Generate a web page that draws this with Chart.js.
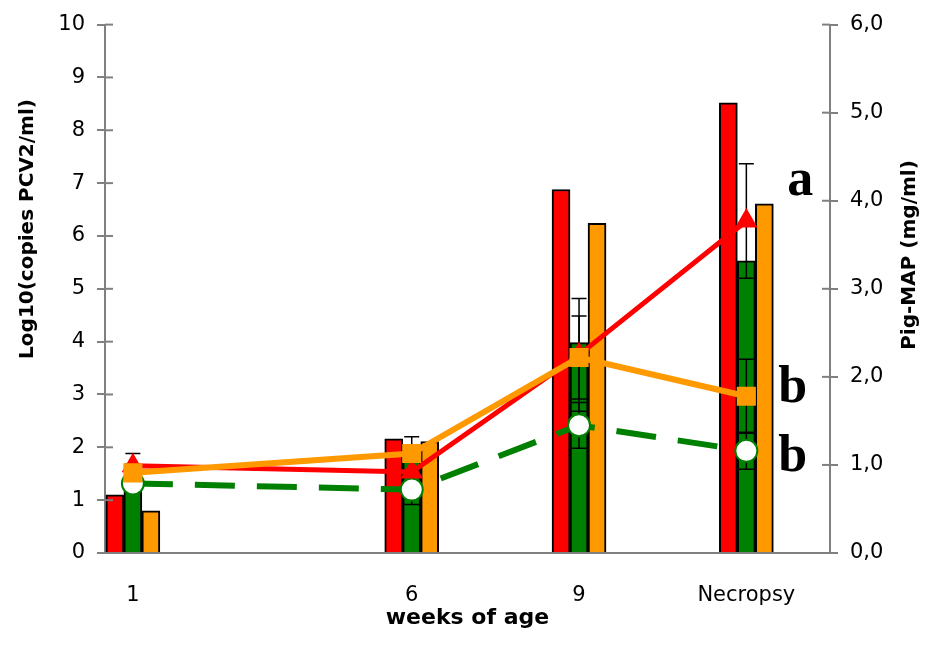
<!DOCTYPE html>
<html>
<head>
<meta charset="utf-8">
<script src="https://cdn.jsdelivr.net/npm/chart.js@4"></script>
<style>
  body { margin: 0; background: #fff; }
  #wrap { width: 934px; height: 646px; }
</style>
</head>
<body>
<div id="wrap"><canvas id="chart" width="934" height="646"></canvas></div>
<script>
// weeks on a linear x axis (necropsy placed at week 12)
const weeks = [1, 6, 9, 12];
const weekLabels = ['1', '6', '9', 'Necropsy'];

// Log10(copies PCV2/ml) - bars, left axis
const pcvRed    = [1.10, 2.16, 6.88, 8.52];
const pcvGreen  = [1.30, 1.75, 3.98, 5.53];
const pcvOrange = [0.80, 2.11, 6.24, 6.61];

// Pig-MAP (mg/ml) - lines, right axis
const mapRed    = [0.99, 0.92, 2.25, 3.77];
const mapOrange = [0.91, 1.13, 2.22, 1.78];
const mapGreen  = [0.79, 0.72, 1.45, 1.16];

// error (+/-) of the Pig-MAP means
const errRed    = [0.14, 0.15, 0.64, 0.65];
const errOrange = [0.10, 0.19, 0.47, 0.42];
const errGreen  = [0.10, 0.17, 0.26, 0.21];

// significance letters at necropsy
const sigLetters = ['a', 'b', 'b'];

const RED = '#ff0000', GREEN = '#008000', ORANGE = '#ff9900', AXIS = '#808080';
const tickFont = { family: 'DejaVu Sans', size: 21 };

const pts = arr => weeks.map((w, i) => ({ x: w, y: arr[i] }));

function barSet(arr, color) {
  return {
    type: 'bar', data: pts(arr), yAxisID: 'y', order: 10,
    backgroundColor: color, borderColor: '#000', borderWidth: 2, barThickness: 18
  };
}

// error bars drawn before the first line (green) so markers sit on top
const errorBars = {
  id: 'errorBars',
  beforeDatasetDraw(chart, args) {
    if (args.index !== 5) return;
    const { ctx, scales } = chart;
    ctx.save();
    ctx.strokeStyle = '#000';
    ctx.lineWidth = 1.5;
    [[mapRed, errRed], [mapOrange, errOrange], [mapGreen, errGreen]].forEach(([vals, errs]) => {
      vals.forEach((v, i) => {
        const x = scales.x.getPixelForValue(weeks[i]);
        const top = scales.y1.getPixelForValue(v + errs[i]);
        const bot = scales.y1.getPixelForValue(v - errs[i]);
        ctx.beginPath();
        ctx.moveTo(x, top); ctx.lineTo(x, bot);
        ctx.moveTo(x - 7.5, top); ctx.lineTo(x + 7.5, top);
        ctx.moveTo(x - 7.5, bot); ctx.lineTo(x + 7.5, bot);
        ctx.stroke();
      });
    });
    ctx.restore();
  }
};

// inner half of the crossing tick marks, titles and letters
const decorations = {
  id: 'decorations',
  afterDraw(chart) {
    const { ctx, scales, chartArea } = chart;
    ctx.save();
    ctx.strokeStyle = AXIS;
    ctx.lineWidth = 2;
    scales.y.ticks.forEach(t => {
      const y = scales.y.getPixelForValue(t.value);
      ctx.beginPath(); ctx.moveTo(chartArea.left, y); ctx.lineTo(chartArea.left + 8, y); ctx.stroke();
    });
    scales.y1.ticks.forEach(t => {
      const y = scales.y1.getPixelForValue(t.value);
      ctx.beginPath(); ctx.moveTo(chartArea.right - 8, y); ctx.lineTo(chartArea.right, y); ctx.stroke();
    });

    ctx.fillStyle = '#000';
    ctx.textAlign = 'center';
    ctx.textBaseline = 'middle';
    ctx.font = 'bold 22px "DejaVu Sans"';
    ctx.fillText('weeks of age', (chartArea.left + chartArea.right) / 2, 618);

    ctx.font = 'bold 20px "DejaVu Sans"';
    ctx.save();
    ctx.translate(28, 229); ctx.rotate(-Math.PI / 2);
    ctx.fillText('Log10(copies PCV2/ml)', 0, 0);
    ctx.restore();
    ctx.save();
    ctx.translate(910, 255); ctx.rotate(-Math.PI / 2);
    ctx.fillText('Pig-MAP (mg/ml)', 0, 0);
    ctx.restore();

    const xN = scales.x.getPixelForValue(weeks[3]);
    ctx.font = 'bold 52px "Liberation Serif"';
    ctx.textAlign = 'left';
    ctx.textBaseline = 'alphabetic';
    ctx.fillText(sigLetters[0], xN + 41, 195);
    ctx.fillText(sigLetters[1], xN + 32, 402);
    ctx.fillText(sigLetters[2], xN + 32, 471);
    ctx.restore();
  }
};

new Chart(document.getElementById('chart'), {
  type: 'bar',
  data: {
    datasets: [
      barSet(pcvRed, RED),
      barSet(pcvGreen, GREEN),
      barSet(pcvOrange, ORANGE),
      {
        type: 'line', data: pts(mapRed), yAxisID: 'y1', order: 2,
        borderColor: RED, borderWidth: 5, pointStyle: 'triangle', pointRadius: 13,
        pointBackgroundColor: RED, pointBorderColor: RED, pointBorderWidth: 0
      },
      {
        type: 'line', data: pts(mapOrange), yAxisID: 'y1', order: 1,
        borderColor: ORANGE, borderWidth: 6, pointStyle: 'rect', pointRadius: 13.5,
        pointBackgroundColor: ORANGE, pointBorderColor: ORANGE, pointBorderWidth: 0
      },
      {
        type: 'line', data: pts(mapGreen), yAxisID: 'y1', order: 3,
        borderColor: GREEN, borderWidth: 6, borderDash: [40, 22], pointStyle: 'circle', pointRadius: 11,
        pointBackgroundColor: '#fff', pointBorderColor: GREEN, pointBorderWidth: 2
      }
    ]
  },
  options: {
    responsive: false,
    animation: false,
    layout: { padding: { top: 20, left: 0, right: 0, bottom: 0 } },
    plugins: { legend: { display: false }, tooltip: { enabled: false } },
    scales: {
      x: {
        type: 'linear', min: 0.5, max: 13.5, offset: false,
        afterBuildTicks: s => { s.ticks = weeks.map(v => ({ value: v })); },
        afterFit: s => { s.height = 93; },
        grid: { display: false, drawTicks: false, offset: false },
        border: { display: true, color: AXIS, width: 2 },
        ticks: {
          autoSkip: false, maxRotation: 0, padding: 30, color: '#000', font: tickFont,
          callback: v => weekLabels[weeks.indexOf(v)]
        }
      },
      y: {
        position: 'left', min: 0, max: 10,
        afterFit: s => { s.width = 105; },
        grid: { drawOnChartArea: false, tickLength: 8, color: AXIS, lineWidth: 2 },
        border: { color: AXIS, width: 2 },
        ticks: { stepSize: 1, padding: 12, color: '#000', font: tickFont }
      },
      y1: {
        position: 'right', min: 0, max: 6,
        afterFit: s => { s.width = 104; },
        grid: { drawOnChartArea: false, tickLength: 8, color: AXIS, lineWidth: 2 },
        border: { color: AXIS, width: 2 },
        ticks: {
          stepSize: 1, padding: 12, color: '#000', font: tickFont,
          callback: v => v.toFixed(1).replace('.', ',')
        }
      }
    }
  },
  plugins: [errorBars, decorations]
});
</script>
</body>
</html>
